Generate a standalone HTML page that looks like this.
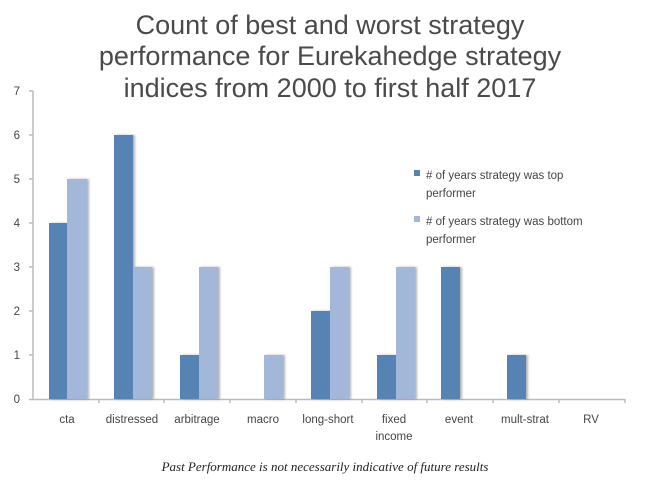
<!DOCTYPE html>
<html><head><style>body{margin:0;background:#fff}</style></head><body>
<svg width="650" height="494" xmlns="http://www.w3.org/2000/svg" font-family="Liberation Sans, sans-serif">
<defs><filter id="s" x="-20%" y="-5%" width="150%" height="110%"><feDropShadow dx="2" dy="0" stdDeviation="1" flood-color="#000" flood-opacity="0.3"/></filter></defs>
<g fill="#4a4a4a" font-size="27" text-anchor="middle">
<text x="330" y="34">Count of best and worst strategy</text>
<text x="330" y="65">performance for Eurekahedge strategy</text>
<text x="330" y="97">indices from 2000 to first half 2017</text>
</g>
<g stroke="#bbb" stroke-width="1.5">
<line x1="33" y1="91" x2="33" y2="400"/>
<line x1="29" y1="399.5" x2="625" y2="399.5"/>
<line x1="29" y1="91" x2="33" y2="91"/><line x1="29" y1="135" x2="33" y2="135"/><line x1="29" y1="179" x2="33" y2="179"/><line x1="29" y1="223" x2="33" y2="223"/><line x1="29" y1="267" x2="33" y2="267"/><line x1="29" y1="311" x2="33" y2="311"/><line x1="29" y1="355" x2="33" y2="355"/>
<line x1="99" y1="399" x2="99" y2="403"/><line x1="164" y1="399" x2="164" y2="403"/><line x1="230" y1="399" x2="230" y2="403"/><line x1="296" y1="399" x2="296" y2="403"/><line x1="362" y1="399" x2="362" y2="403"/><line x1="427" y1="399" x2="427" y2="403"/><line x1="493" y1="399" x2="493" y2="403"/><line x1="559" y1="399" x2="559" y2="403"/><line x1="625" y1="399" x2="625" y2="403"/>
</g>
<g fill="#444" font-size="11.5" text-anchor="end">
<text x="20" y="95">7</text><text x="20" y="139">6</text><text x="20" y="183">5</text><text x="20" y="227">4</text><text x="20" y="271">3</text><text x="20" y="315">2</text><text x="20" y="359">1</text><text x="20" y="403">0</text>
</g>
<g filter="url(#s)">
<g fill="#5683b4">
<rect x="49" y="223" width="18" height="176"/>
<rect x="114" y="135" width="19" height="264"/>
<rect x="180" y="355" width="19" height="44"/>
<rect x="311" y="311" width="19" height="88"/>
<rect x="377" y="355" width="19" height="44"/>
<rect x="441" y="267" width="19" height="132"/>
<rect x="507" y="355" width="19" height="44"/>
</g>
<g fill="#a3b7d9">
<rect x="67" y="179" width="20" height="220"/>
<rect x="133" y="267" width="19" height="132"/>
<rect x="199" y="267" width="19" height="132"/>
<rect x="264" y="355" width="19" height="44"/>
<rect x="330" y="267" width="19" height="132"/>
<rect x="396" y="267" width="19" height="132"/>
</g>
</g>
<g fill="#444" font-size="11.5" text-anchor="middle">
<text x="67" y="423">cta</text><text x="132" y="423">distressed</text><text x="197" y="423">arbitrage</text><text x="263" y="423">macro</text><text x="328" y="423">long-short</text><text x="394" y="423">fixed</text><text x="394" y="440">income</text><text x="459" y="423">event</text><text x="525" y="423">mult-strat</text><text x="591" y="423">RV</text>
</g>
<rect x="414" y="170" width="6" height="6" fill="#5683b4"/>
<rect x="414" y="216" width="6" height="6" fill="#a3b7d9"/>
<g fill="#444" font-size="11.5">
<text x="426" y="179">#&#160;of years strategy was top</text><text x="426" y="197">performer</text>
<text x="426" y="225">#&#160;of years strategy was bottom</text><text x="426" y="243">performer</text>
</g>
<text x="325" y="471" text-anchor="middle" font-family="Liberation Serif, serif" font-style="italic" font-size="13" fill="#222">Past Performance is not necessarily indicative of future results</text>
</svg>
</body></html>
